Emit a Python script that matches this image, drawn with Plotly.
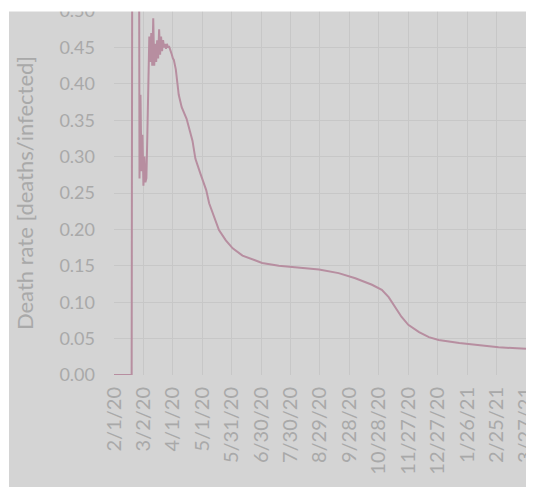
import plotly.graph_objects as go

# ---- data ----
dates = [
    "2020-02-01", "2020-02-19", "2020-02-20", "2020-02-21", "2020-02-22", "2020-02-23",
    "2020-02-24", "2020-02-25", "2020-02-26", "2020-02-27", "2020-02-28", "2020-02-29",
    "2020-03-01", "2020-03-02", "2020-03-03", "2020-03-04", "2020-03-05", "2020-03-06",
    "2020-03-07", "2020-03-08", "2020-03-09", "2020-03-10", "2020-03-11", "2020-03-12",
    "2020-03-13", "2020-03-14", "2020-03-15", "2020-03-16", "2020-03-17", "2020-03-18",
    "2020-03-19", "2020-03-20", "2020-03-21", "2020-03-22", "2020-03-23", "2020-03-24",
    "2020-03-25", "2020-03-26", "2020-03-27", "2020-03-28", "2020-03-29", "2020-03-30",
    "2020-03-31", "2020-04-01", "2020-04-02", "2020-04-04", "2020-04-07", "2020-04-10",
    "2020-04-15", "2020-04-21", "2020-04-24", "2020-04-29", "2020-05-05", "2020-05-08",
    "2020-05-13", "2020-05-18", "2020-05-25", "2020-06-01", "2020-06-11", "2020-06-21",
    "2020-07-01", "2020-07-18", "2020-08-08", "2020-08-28", "2020-09-17", "2020-10-04",
    "2020-10-21", "2020-10-31", "2020-11-07", "2020-11-14", "2020-11-20", "2020-11-27",
    "2020-12-08", "2020-12-18", "2020-12-28", "2021-01-18", "2021-02-07", "2021-02-27",
    "2021-03-27",
]
death_rate = [
    0.0, 0.0, 1.0, 1.0, 1.0, 1.0,
    1.0, 1.0, 1.0, 0.27, 0.385, 0.28,
    0.33, 0.26, 0.30, 0.265, 0.27, 0.33,
    0.40, 0.465, 0.43, 0.47, 0.425, 0.49,
    0.425, 0.455, 0.43, 0.46, 0.435, 0.475,
    0.44, 0.465, 0.445, 0.46, 0.45, 0.455,
    0.448, 0.455, 0.45, 0.452, 0.448, 0.445,
    0.44, 0.435, 0.433, 0.42, 0.385, 0.368,
    0.352, 0.322, 0.297, 0.277, 0.254, 0.236,
    0.217, 0.199, 0.185, 0.174, 0.164, 0.159,
    0.154, 0.150, 0.147, 0.145, 0.140, 0.133,
    0.124, 0.117, 0.107, 0.093, 0.080, 0.069,
    0.059, 0.052, 0.048, 0.044, 0.041, 0.038,
    0.036,
]
tick_dates = [
    "2020-02-01", "2020-03-02", "2020-04-01", "2020-05-01", "2020-05-31", "2020-06-30",
    "2020-07-30", "2020-08-29", "2020-09-28", "2020-10-28", "2020-11-27", "2020-12-27",
    "2021-01-26", "2021-02-25", "2021-03-27",
]
tick_labels = [
    "2/1/20", "3/2/20", "4/1/20", "5/1/20", "5/31/20", "6/30/20", "7/30/20", "8/29/20",
    "9/28/20", "10/28/20", "11/27/20", "12/27/20", "1/26/21", "2/25/21", "3/27/21",
]
y_ticks = [0.0, 0.05, 0.10, 0.15, 0.20, 0.25, 0.30, 0.35, 0.40, 0.45, 0.50]
y_title = "Death rate [deaths/infected]"

# ---- style ----
BG = "#d4d4d4"
GRID = "#c7c7c7"
TXT = "#a9a9a9"
LINE = "#b78ea0"
FONT = "Lato"

OFF = 8  # page body margin
W, H = 534 - OFF, 487 - OFF
ML, MR, MT, MB = 106, 8, 3, 112
PW, PH = W - ML - MR, H - MT - MB


def px_x(p):
    # p in page pixels
    return (p - OFF - ML) / PW


def px_y(p):
    return (H - MB - (p - OFF)) / PH


fig = go.Figure()
fig.add_trace(go.Scatter(
    x=dates, y=death_rate, mode="lines",
    line=dict(color=LINE, width=2), hoverinfo="skip", showlegend=False,
))

fig.update_layout(
    width=W, height=H,
    margin=dict(l=ML, r=MR, t=MT, b=MB, autoexpand=False),
    paper_bgcolor=BG, plot_bgcolor=BG,
    font=dict(family=FONT, color=TXT, size=18),
    xaxis=dict(
        type="date", range=[tick_dates[0], tick_dates[-1] + " 00:20"],
        tickmode="array", tickvals=tick_dates, ticktext=tick_labels,
        tickangle=-90, showgrid=True, gridcolor=GRID, gridwidth=1,
        zeroline=False, showline=False, ticks="",
        tickfont=dict(family=FONT, size=20, color=TXT),
        ticklabelstandoff=7, ticklabeloverflow="allow",
    ),
    yaxis=dict(
        range=[0, 0.5001],
        tickmode="array", tickvals=y_ticks,
        ticktext=[f"{v:.2f}" for v in y_ticks],
        showgrid=True, gridcolor=GRID, gridwidth=1,
        zeroline=False, showline=False, ticks="",
        tickfont=dict(family=FONT, size=18, color=TXT),
        ticklabelstandoff=18, ticklabeloverflow="allow",
        title=dict(text=y_title, font=dict(family=FONT, size=22, color=TXT), standoff=19),
    ),
    shapes=[
        dict(type="rect", xref="paper", yref="paper", layer="above",
             x0=px_x(8), x1=px_x(531), y0=px_y(11.5), y1=px_y(8),
             fillcolor="white", line=dict(width=0)),
        dict(type="rect", xref="paper", yref="paper", layer="above",
             x0=px_x(8), x1=px_x(9), y0=px_y(487), y1=px_y(8),
             fillcolor="white", line=dict(width=0)),
        dict(type="rect", xref="paper", yref="paper", layer="above",
             x0=px_x(531), x1=px_x(534), y0=px_y(487), y1=px_y(8),
             fillcolor="#dedede", line=dict(width=0)),
    ],
)

fig.write_html("out.html")
